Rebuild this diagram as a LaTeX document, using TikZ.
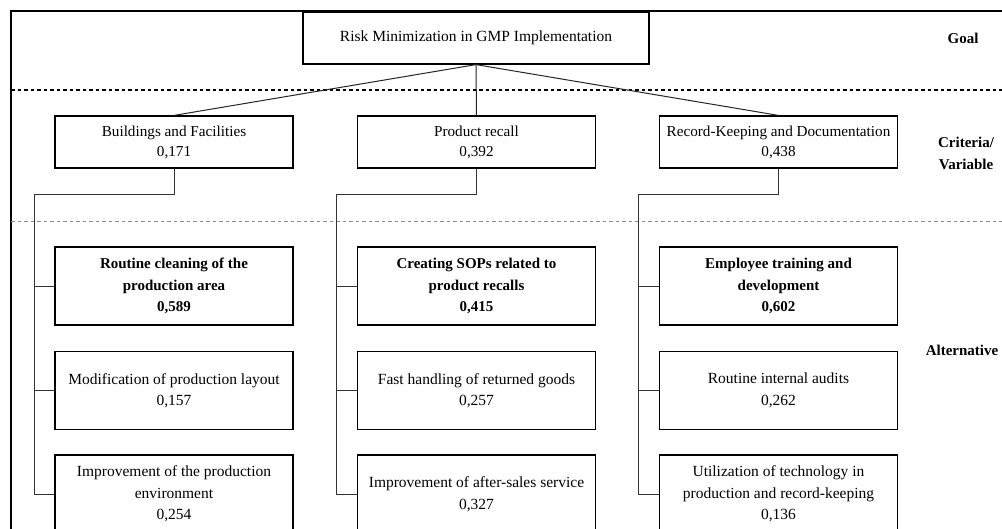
\documentclass[tikz,border=0pt]{standalone}
\usepackage{fontspec}
\setmainfont{Liberation Serif}
\begin{document}
\begin{tikzpicture}[x=1pt,y=-1pt,
  box/.style={draw=black,line width=1.2pt,minimum width=238pt,align=center,inner sep=0pt,
    font=\fontsize{15.5}{21.5}\selectfont},
  crit/.style={box,minimum height=52pt,font=\fontsize{15.2}{20}\selectfont},
  alt/.style={box,minimum height=78pt},
  altb/.style={alt,font=\fontsize{15}{21.7}\selectfont\bfseries},
  lvl/.style={font=\fontsize{15}{22}\selectfont\bfseries,align=center},
  conn/.style={draw=black!85,line width=1pt},
  tree/.style={draw=black!80,line width=1pt}]
\useasboundingbox (0,0) rectangle (1002,528);
\clip (0,0) rectangle (1002,528);
\fill[white] (0,0) rectangle (1002,528);
% frame
\draw[line width=2pt] (11,540) -- (11,11) -- (1010,11);
% dashed separators
\draw[dash pattern=on 3.5pt off 3pt,line width=1.1pt] (11,90) -- (1002,90);
\draw[dash pattern=on 3.5pt off 3pt,line width=1pt,draw=black!45] (11,221) -- (1002,221);
% goal
\node[box,minimum width=346pt,minimum height=52pt] (goal) at (476,38) {Risk Minimization in GMP Implementation};
% criteria
\node[crit] (c1) at (174,142) {Buildings and Facilities\\0,171};
\node[crit] (c2) at (476.5,142) {Product recall\\0,392};
\node[crit] (c3) at (778.5,142) {Record-Keeping and Documentation\\0,438};
\draw[conn] (goal.south) -- (c1.north);
\draw[conn] (goal.south) -- (c2.north);
\draw[conn] (goal.south) -- (c3.north);
% alternatives
\node[altb] (a11) at (174,286) {Routine cleaning of the\\production area\\0,589};
\node[alt] (a12) at (174,390.5) {Modification of production layout\\0,157};
\node[alt] (a13) at (174,494) {Improvement of the production\\environment\\0,254};
\node[altb] (a21) at (476.5,286) {Creating SOPs related to\\product recalls\\0,415};
\node[alt] (a22) at (476.5,390.5) {Fast handling of returned goods\\0,257};
\node[alt] (a23) at (476.5,494) {Improvement of after-sales service\\0,327};
\node[altb] (a31) at (778.5,286) {Employee training and\\development\\0,602};
\node[alt] (a32) at (778.5,390.5) {Routine internal audits\\0,262};
\node[alt] (a33) at (778.5,494) {Utilization of technology in\\production and record-keeping\\0,136};
% trees
\coordinate (t1) at (34,194);
\coordinate (t2) at (336,194);
\coordinate (t3) at (638,194);
\foreach \i in {1,2,3}{
  \draw[tree] (c\i.south) |- (t\i) |- (a\i3.west);
  \draw[tree] (a\i1.west) -- (a\i1.west -| t\i);
  \draw[tree] (a\i2.west) -- (a\i2.west -| t\i);
}
% level labels
\node[lvl] (lg) at (963,38) {Goal};
\node[lvl] (lc) at (966,153) {Criteria/\\Variable};
\node[lvl] (la) at (962,350) {Alternative};
\end{tikzpicture}
\end{document}
